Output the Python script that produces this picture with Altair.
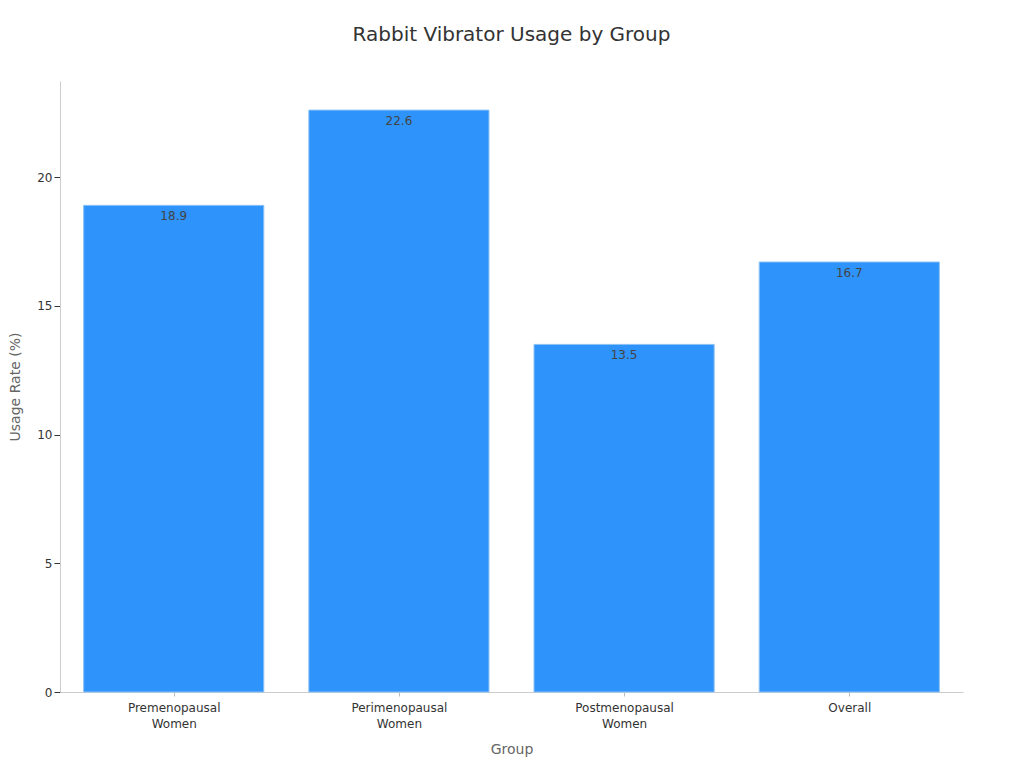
import altair as alt
import pandas as pd

groups = ["Premenopausal Women", "Perimenopausal Women", "Postmenopausal Women", "Overall"]
usage = [18.9, 22.6, 13.5, 16.7]

df = pd.DataFrame({"Group": groups, "Usage": usage})

FONT = "DejaVu Sans"

base = alt.Chart(df).encode(
    x=alt.X("Group:N", sort=groups, title="Group",
            scale=alt.Scale(paddingInner=0.2, paddingOuter=0.105),
            axis=alt.Axis(labelAngle=0, labelExpr="split(datum.label, ' ')",
                          labelFont=FONT, labelFontSize=12, labelColor="#333333",
                          labelPadding=6, labelLineHeight=16,
                          tickColor="#bbbbbb", tickSize=4, tickOffset=0,
                          domainColor="#cccccc",
                          titleFont=FONT, titleFontSize=14, titleFontWeight="normal",
                          titleColor="#666666", titlePadding=13)),
    y=alt.Y("Usage:Q", title="Usage Rate (%)",
            scale=alt.Scale(domain=[0, 23.73], nice=False),
            axis=alt.Axis(values=[0, 5, 10, 15, 20], grid=False,
                          labelFont=FONT, labelFontSize=12, labelColor="#333333",
                          tickColor="#333333", tickSize=6,
                          domainColor="#cccccc",
                          titleFont=FONT, titleFontSize=14, titleFontWeight="normal",
                          titleColor="#666666", titlePadding=14)),
)

bars = base.mark_bar(color="#2E93FA", stroke="#8cc2f7", strokeWidth=1)
labels = base.mark_text(baseline="top", dy=6, font=FONT, fontSize=12, color="#444444").encode(
    text=alt.Text("Usage:Q", format=".1f"))

chart = (bars + labels).properties(
    width=903, height=611,
    title=alt.TitleParams("Rabbit Vibrator Usage by Group", font=FONT, fontSize=20,
                          fontWeight="normal", color="#333333", offset=36),
    autosize=alt.AutoSizeParams(type="none"),
    padding={"left": 52, "top": 73, "right": 53, "bottom": 68},
).configure_view(stroke=None)

chart.save("out.html", embed_options={"renderer": "svg", "actions": False})
